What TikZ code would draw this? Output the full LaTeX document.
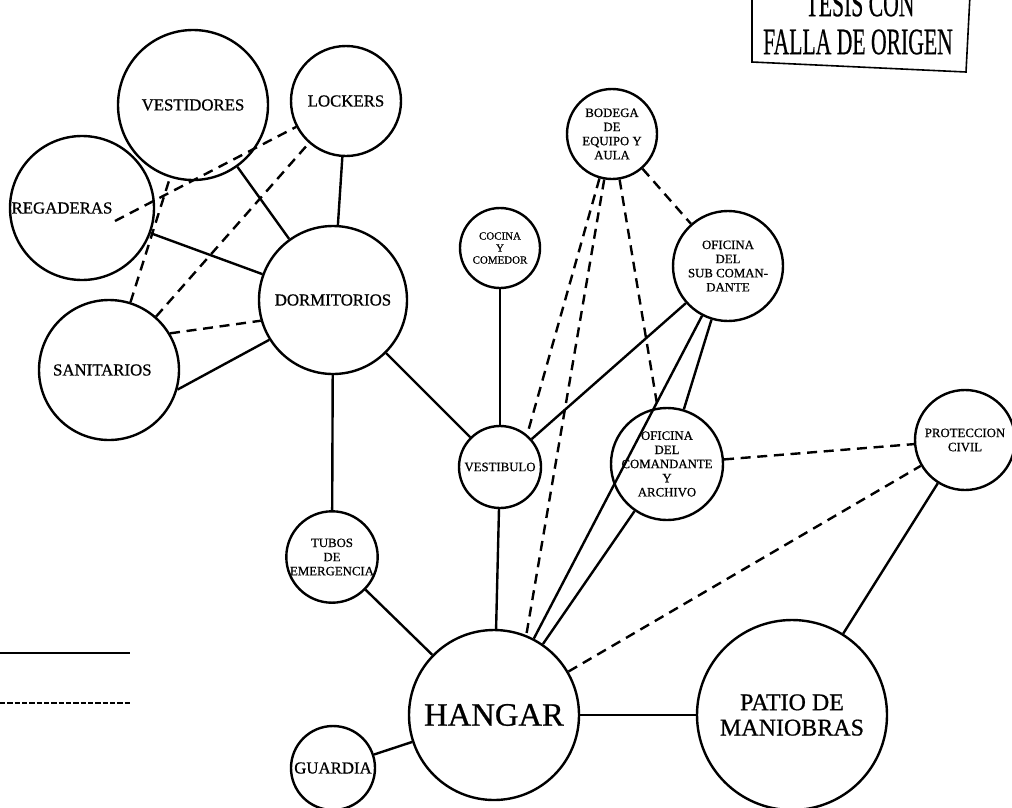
\documentclass[tikz,border=0pt]{standalone}
\usepackage{fontspec}
\setmainfont{Liberation Serif}
\newfontfamily\labelfont{Liberation Serif}[FakeBold=0.7]
\begin{document}
\begin{tikzpicture}[x=0.75pt,y=-0.75pt,
  room/.style={circle,draw,line width=1.8pt,inner sep=0pt,align=center,minimum size=#1*1.5pt},
  bigtext/.style={font=\labelfont\fontsize{24.5}{27}\selectfont},
  patiotext/.style={font=\labelfont\fontsize{18}{19}\selectfont},
  medtext/.style={font=\labelfont\fontsize{12.6}{14}\selectfont},
  smalltext/.style={font=\labelfont\fontsize{9.6}{10.6}\selectfont},
  tinytext/.style={font=\labelfont\fontsize{8.2}{9}\selectfont},
  link/.style={line width=1.8pt},
  alt/.style={line width=1.8pt,dash pattern=on 7.5pt off 5pt},
  keysolid/.style={line width=0.8pt},
  keydash/.style={line width=0.8pt,dash pattern=on 4pt off 1.5pt}]
\useasboundingbox (0,0) rectangle (1012,807);
\clip (0,0) rectangle (1012,807);

% rooms
\node[room=75,medtext] (ves) at (193,105) {VESTIDORES};
\node[room=55,medtext] (lock) at (346,101) {LOCKERS};
\node[room=72,medtext] (reg) at (82,208) {\hspace*{-30pt}REGADERAS};
\node[room=74,medtext] (dorm) at (333,300) {DORMITORIOS};
\node[room=70,medtext] (san) at (109,370) {\hspace*{-10pt}SANITARIOS};
\node[room=45,smalltext] (bod) at (612,134) {BODEGA\\DE\\EQUIPO Y\\AULA};
\node[room=40,tinytext] (coc) at (500,248) {COCINA\\Y\\COMEDOR};
\node[room=55,smalltext] (sub) at (728,266) {OFICINA\\DEL\\SUB COMAN-\\DANTE};
\node[room=41,smalltext] (vtb) at (500,467) {VESTIBULO};
\node[room=47,smalltext] (com) at (667,464) {OFICINA\\DEL\\COMANDANTE\\Y\\ARCHIVO};
\node[room=50,smalltext] (pro) at (965,440) {PROTECCION\\CIVIL};
\node[room=44,smalltext] (tub) at (332,557) {TUBOS\\DE\\EMERGENCIA};
\node[room=85,bigtext] (han) at (494,715) {HANGAR};
\node[room=95,patiotext] (pat) at (792,715) {PATIO DE\\MANIOBRAS};
\node[room=42,medtext] (gua) at (333,768) {GUARDIA};

% the dashed line to the lockers starts right after the label
\coordinate (regin) at (115,221);

% direct relations
\draw[link] (ves) -- (dorm);
\draw[link] (lock) -- (dorm);
\draw[link] (reg) -- (dorm);
\draw[link] (san.-16) -- (dorm.212);
\draw[link] (dorm) -- (vtb);
\draw[link] (dorm) -- (tub);
\draw[link] (coc) -- (vtb);
\draw[link] (vtb) -- (sub);
\draw[link] (vtb) -- (han);
\draw[link] (han) -- (sub);
\draw[link] (sub) -- (com);
\draw[link] (han) -- (com);
\draw[link] (han) -- (tub);
\draw[link] (han) -- (gua);
\draw[link] (han) -- (pat);
\draw[link] (pat) -- (pro);

% indirect relations
\draw[alt] (regin) -- (lock);
\draw[alt] (san) -- (ves);
\draw[alt] (san) -- (lock);
\draw[alt] (san.31) -- (dorm.196);
\draw[alt] (bod) -- (vtb.50);
\draw[alt] (bod) -- (han.68);
\draw[alt] (bod) -- (com);
\draw[alt] (bod) -- (sub);
\draw[alt] (com) -- (pro);
\draw[alt] (han) -- (pro);

% key
\coordinate (k1a) at (0,653);
\coordinate (k1b) at (130,653);
\coordinate (k2a) at (0,703);
\coordinate (k2b) at (130,703);
\draw[keysolid] (k1a) -- (k1b);
\draw[keydash] (k2a) -- (k2b);

% stamp
\draw[line width=1.2pt] (752,-5) -- (752,62) -- (966,72) -- (970,-5);
\node[font=\labelfont\fontsize{28}{30}\selectfont] (st1) at (860,4) {\scalebox{0.58}[1]{TESIS CON}};
\node[font=\labelfont\fontsize{28}{30}\selectfont] (st2) at (858,42) {\scalebox{0.58}[1]{FALLA DE ORIGEN}};
\end{tikzpicture}
\end{document}
